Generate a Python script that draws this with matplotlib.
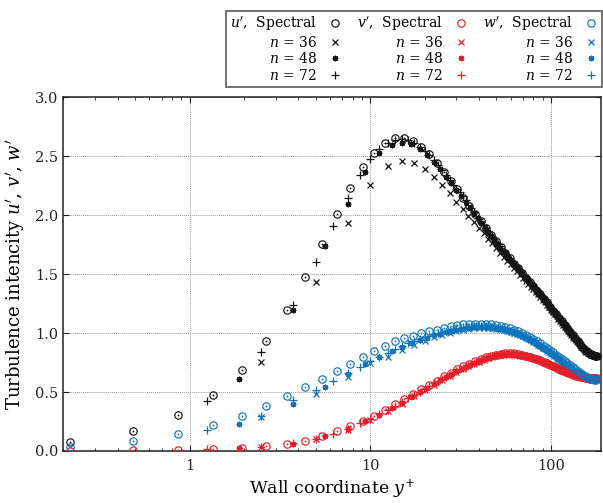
import matplotlib
matplotlib.use("Agg")
import matplotlib.pyplot as plt
from matplotlib.ticker import NullFormatter, LogLocator

plt.rcParams['font.family'] = ['DejaVu Serif']
plt.rcParams['mathtext.fontset'] = 'dejavuserif'

# ---------------- data ----------------
x_spec = [0.217, 0.488, 0.867, 1.354, 1.948, 2.65, 3.459, 4.374, 5.394, 6.52, 7.751, 9.085, 10.52, 12.06,
          13.70, 15.44, 17.28, 19.22, 21.25, 23.38, 25.61, 27.93, 30.34, 32.83, 35.42, 38.10, 40.86, 43.70,
          46.63, 49.64, 52.72, 55.88, 59.12, 62.43, 65.81, 69.26, 72.77, 76.35, 80.00, 83.70, 87.46, 91.28,
          95.15, 99.07, 103.04, 107.06, 111.12, 115.22, 119.36, 123.54, 127.75, 131.99, 136.26, 140.56,
          144.88, 149.23, 153.59, 157.97, 162.36, 166.76, 171.17, 175.58, 180.0]

x_n36 = [2.5, 5, 7.5, 10, 12.5, 15, 17.5, 20, 22.5, 25, 27.5, 30, 32.5, 35, 37.5, 40, 42.5, 45, 47.5, 50,
         52.5, 55, 57.5, 60, 62.5, 65, 67.5, 70, 72.5, 75, 77.5, 80, 82.5, 85, 87.5, 90, 92.5, 95, 97.5, 100,
         102.5, 105, 107.5, 110, 112.5, 115, 117.5, 120, 122.5, 125, 127.5, 130, 132.5, 135, 137.5, 140,
         142.5, 145, 147.5, 150, 152.5, 155, 157.5, 160, 162.5, 165, 167.5, 170, 172.5, 175, 177.5, 180]

x_n48 = [1.875, 3.75, 5.625, 7.5, 9.375, 11.25, 13.125, 15, 16.875, 18.75, 20.625, 22.5, 24.375, 26.25,
         28.125, 30, 31.875, 33.75, 35.625, 37.5, 39.375, 41.25, 43.125, 45, 46.875, 48.75, 50.625, 52.5,
         54.375, 56.25, 58.125, 60, 61.875, 63.75, 65.625, 67.5, 69.375, 71.25, 73.125, 75, 76.875, 78.75,
         80.625, 82.5, 84.375, 86.25, 88.125, 90, 91.875, 93.75, 95.625, 97.5, 99.375, 101.25, 103.125, 105,
         106.875, 108.75, 110.625, 112.5, 114.375, 116.25, 118.125, 120, 121.875, 123.75, 125.625, 127.5,
         129.375, 131.25, 133.125, 135, 136.875, 138.75, 140.625, 142.5, 144.375, 146.25, 148.125, 150,
         151.875, 153.75, 155.625, 157.5, 159.375, 161.25, 163.125, 165, 166.875, 168.75, 170.625, 172.5,
         174.375, 176.25, 178.125, 180]

x_n72 = [1.25, 2.5, 3.75, 5, 6.25, 7.5, 8.75, 10, 11.25, 12.5, 13.75, 15, 16.25, 17.5, 18.75, 20, 21.25,
         22.5, 23.75, 25, 26.25, 27.5, 28.75, 30, 31.25, 32.5, 33.75, 35, 36.25, 37.5, 38.75, 40, 41.25,
         42.5, 43.75, 45, 46.25, 47.5, 48.75, 50, 51.25, 52.5, 53.75, 55, 56.25, 57.5, 58.75, 60, 61.25,
         62.5, 63.75, 65, 66.25, 67.5, 68.75, 70, 71.25, 72.5, 73.75, 75, 76.25, 77.5, 78.75, 80, 81.25,
         82.5, 83.75, 85, 86.25, 87.5, 88.75, 90, 91.25, 92.5, 93.75, 95, 96.25, 97.5, 98.75, 100, 101.25,
         102.5, 103.75, 105, 106.25, 107.5, 108.75, 110, 111.25, 112.5, 113.75, 115, 116.25, 117.5, 118.75,
         120, 121.25, 122.5, 123.75, 125, 126.25, 127.5, 128.75, 130, 131.25, 132.5, 133.75, 135, 136.25,
         137.5, 138.75, 140, 141.25, 142.5, 143.75, 145, 146.25, 147.5, 148.75, 150, 151.25, 152.5, 153.75,
         155, 156.25, 157.5, 158.75, 160, 161.25, 162.5, 163.75, 165, 166.25, 167.5, 168.75, 170, 171.25,
         172.5, 173.75, 175, 176.25, 177.5, 178.75, 180]

# u'
u_spec = [0.074, 0.17, 0.305, 0.478, 0.687, 0.93, 1.196, 1.478, 1.756, 2.01, 2.23, 2.41, 2.53, 2.615, 2.652,
          2.657, 2.63, 2.576, 2.52, 2.445, 2.366, 2.29, 2.22, 2.15, 2.08, 2.01, 1.95, 1.89, 1.835, 1.78, 1.73,
          1.68, 1.635, 1.59, 1.55, 1.51, 1.47, 1.43, 1.40, 1.36, 1.33, 1.29, 1.26, 1.22, 1.19, 1.16, 1.13,
          1.10, 1.07, 1.04, 1.01, 0.98, 0.955, 0.93, 0.905, 0.88, 0.86, 0.845, 0.83, 0.82, 0.812, 0.808, 0.806]

u_n36 = [0.757, 1.43, 1.936, 2.256, 2.417, 2.457, 2.44, 2.39, 2.327, 2.256, 2.186, 2.115, 2.05, 1.99, 1.94,
         1.89, 1.845, 1.80, 1.76, 1.72, 1.683, 1.648, 1.615, 1.583, 1.553, 1.524, 1.496, 1.469, 1.443, 1.418,
         1.394, 1.372, 1.35, 1.328, 1.306, 1.284, 1.262, 1.241, 1.22, 1.199, 1.179, 1.16, 1.141, 1.122,
         1.104, 1.086, 1.069, 1.052, 1.035, 1.018, 1.001, 0.985, 0.969, 0.954, 0.94, 0.926, 0.912, 0.898,
         0.885, 0.872, 0.861, 0.851, 0.842, 0.834, 0.827, 0.821, 0.816, 0.812, 0.809, 0.807, 0.806, 0.805]

u_n48 = [0.61, 1.196, 1.74, 2.095, 2.37, 2.525, 2.595, 2.61, 2.60, 2.56, 2.51, 2.45, 2.39, 2.325, 2.27, 2.21,
         2.16, 2.11, 2.065, 2.02, 1.975, 1.935, 1.895, 1.855, 1.82, 1.787, 1.755, 1.725, 1.696, 1.668, 1.642,
         1.617, 1.593, 1.57, 1.548, 1.527, 1.506, 1.485, 1.465, 1.445, 1.426, 1.408, 1.39, 1.372, 1.355,
         1.338, 1.321, 1.303, 1.285, 1.268, 1.252, 1.236, 1.22, 1.204, 1.19, 1.175, 1.161, 1.147, 1.133,
         1.119, 1.105, 1.091, 1.078, 1.065, 1.052, 1.039, 1.026, 1.013, 1.0, 0.987, 0.975, 0.963, 0.952,
         0.941, 0.93, 0.919, 0.908, 0.897, 0.887, 0.877, 0.868, 0.86, 0.853, 0.847, 0.841, 0.835, 0.83,
         0.825, 0.821, 0.817, 0.814, 0.811, 0.809, 0.808, 0.807, 0.806]

u_n72 = [0.424, 0.842, 1.24, 1.60, 1.91, 2.15, 2.345, 2.475, 2.56, 2.615, 2.64, 2.645, 2.635, 2.612, 2.58,
         2.545, 2.51, 2.47, 2.425, 2.38, 2.34, 2.295, 2.26, 2.225,
         2.195, 2.16, 2.125, 2.09, 2.06, 2.025, 1.995, 1.97, 1.94, 1.915, 1.89, 1.865, 1.84, 1.82, 1.795,
         1.775, 1.755, 1.735, 1.715, 1.695, 1.675, 1.657, 1.64, 1.623, 1.606, 1.59, 1.574, 1.559, 1.545,
         1.53, 1.516, 1.502, 1.488, 1.474, 1.46, 1.446, 1.432, 1.42, 1.41, 1.40, 1.387, 1.374, 1.36, 1.35,
         1.34, 1.33, 1.317, 1.303, 1.29, 1.28, 1.27, 1.26, 1.248, 1.236, 1.224, 1.213, 1.203, 1.194, 1.185,
         1.175, 1.166, 1.157, 1.148, 1.139, 1.13, 1.12, 1.11, 1.10, 1.092, 1.083, 1.075, 1.066, 1.057, 1.048,
         1.039, 1.03, 1.021, 1.012, 1.003, 0.995, 0.986, 0.977, 0.97, 0.962, 0.955, 0.948, 0.941, 0.934,
         0.926, 0.919, 0.912, 0.905, 0.897, 0.89, 0.883, 0.876, 0.87, 0.865, 0.86, 0.855, 0.851, 0.847,
         0.843, 0.838, 0.834, 0.83, 0.827, 0.824, 0.821, 0.819, 0.817, 0.815, 0.813, 0.811, 0.81, 0.809,
         0.808, 0.807, 0.806, 0.806]

# v'
v_spec = [0.002, 0.004, 0.008, 0.016, 0.026, 0.04, 0.06, 0.088, 0.124, 0.165, 0.209, 0.257, 0.30, 0.347,
          0.394, 0.437, 0.481, 0.524, 0.562, 0.597, 0.633, 0.665, 0.694, 0.718, 0.741, 0.761, 0.779, 0.795,
          0.808, 0.818, 0.825, 0.829, 0.83, 0.828, 0.824, 0.818, 0.809, 0.801, 0.79, 0.78, 0.769, 0.757,
          0.745, 0.733, 0.721, 0.71, 0.699, 0.688, 0.677, 0.667, 0.658, 0.65, 0.643, 0.637, 0.632, 0.628,
          0.624, 0.621, 0.619, 0.617, 0.616, 0.615, 0.615]

v_n36 = [0.033, 0.098, 0.18, 0.26, 0.335, 0.40, 0.463, 0.515, 0.561, 0.602, 0.638, 0.67, 0.697, 0.72, 0.74,
         0.758, 0.775, 0.789, 0.8, 0.809, 0.815, 0.819, 0.821, 0.821, 0.82, 0.817, 0.813, 0.809, 0.804,
         0.799, 0.793, 0.786, 0.779, 0.771, 0.764, 0.756, 0.748, 0.741, 0.733, 0.725, 0.718, 0.71, 0.703,
         0.696, 0.689, 0.682, 0.676, 0.67, 0.664, 0.658, 0.654, 0.649, 0.645, 0.641, 0.637, 0.634, 0.631,
         0.628, 0.626, 0.624, 0.622, 0.62, 0.619, 0.618, 0.617, 0.616, 0.616, 0.615, 0.615, 0.615, 0.614,
         0.614]

v_n48 = [0.022, 0.063, 0.125, 0.188, 0.25, 0.308, 0.362, 0.41, 0.455, 0.498, 0.535, 0.569, 0.6, 0.628, 0.653,
         0.675, 0.695, 0.713, 0.729, 0.744, 0.757, 0.769, 0.779, 0.789, 0.797, 0.804, 0.81, 0.815, 0.818,
         0.82, 0.821, 0.821, 0.82, 0.818, 0.816, 0.813, 0.81, 0.806, 0.802, 0.798, 0.793, 0.788, 0.783,
         0.778, 0.772, 0.767, 0.761, 0.755, 0.749, 0.744, 0.738, 0.732, 0.726, 0.72, 0.714, 0.709, 0.703,
         0.698, 0.693, 0.688, 0.683, 0.678, 0.674, 0.669, 0.665, 0.661, 0.657, 0.653, 0.65, 0.647, 0.644,
         0.641, 0.638, 0.636, 0.633, 0.631, 0.629, 0.627, 0.625, 0.624, 0.622, 0.621, 0.62, 0.619, 0.618,
         0.617, 0.617, 0.616, 0.616, 0.615, 0.615, 0.615, 0.614, 0.614, 0.614, 0.614]

v_n72 = [0.013, 0.035, 0.064, 0.104, 0.147, 0.19, 0.233, 0.273, 0.312, 0.348, 0.382, 0.413, 0.445, 0.477,
         0.503, 0.528, 0.551, 0.573, 0.593, 0.613, 0.631, 0.648, 0.664, 0.679, 0.692, 0.705, 0.716, 0.727,
         0.737, 0.747, 0.756, 0.765, 0.773, 0.781, 0.789, 0.795, 0.800, 0.805, 0.810, 0.814, 0.817, 0.82,
         0.822, 0.823, 0.824, 0.825, 0.825, 0.824, 0.823, 0.822, 0.82, 0.818, 0.816, 0.814, 0.812, 0.81,
         0.808, 0.805, 0.802, 0.8, 0.797, 0.794, 0.79, 0.787, 0.783, 0.78, 0.776, 0.772, 0.769, 0.765,
         0.761, 0.757, 0.753, 0.749, 0.746, 0.742, 0.738, 0.734, 0.73, 0.726, 0.722, 0.719, 0.715, 0.711,
         0.708, 0.704, 0.701, 0.697, 0.694, 0.69, 0.687, 0.683, 0.68, 0.677, 0.674, 0.671, 0.668, 0.665,
         0.662, 0.659, 0.657, 0.655, 0.652, 0.65, 0.648, 0.646, 0.644, 0.642, 0.64, 0.638, 0.636, 0.635,
         0.633, 0.632, 0.63, 0.629, 0.628, 0.627, 0.626, 0.625, 0.624, 0.623, 0.622, 0.621, 0.62, 0.62,
         0.619, 0.619, 0.618, 0.618, 0.617, 0.617, 0.617, 0.616, 0.616, 0.616, 0.616, 0.615, 0.615, 0.615,
         0.615, 0.615, 0.615, 0.615]

# w'
w_spec = [0.037, 0.085, 0.147, 0.22, 0.30, 0.384, 0.464, 0.54, 0.61, 0.68, 0.738, 0.80, 0.848, 0.89, 0.93,
          0.955, 0.978, 0.998, 1.015, 1.03, 1.045, 1.057, 1.066, 1.073, 1.078, 1.08, 1.08, 1.077, 1.073,
          1.067, 1.06, 1.051, 1.04, 1.028, 1.015, 1.0, 0.985, 0.968, 0.95, 0.931, 0.912, 0.893, 0.874,
          0.855, 0.836, 0.817, 0.798, 0.779, 0.761, 0.743, 0.726, 0.709, 0.693, 0.678, 0.664, 0.651, 0.64,
          0.63, 0.622, 0.616, 0.611, 0.608, 0.607]

w_n36 = [0.29, 0.483, 0.625, 0.745, 0.80, 0.855, 0.9, 0.935, 0.963, 0.985, 1.002, 1.016, 1.027, 1.035, 1.04,
         1.043, 1.044, 1.043, 1.04, 1.036, 1.031, 1.025, 1.018, 1.01, 1.001, 0.992, 0.982, 0.971, 0.96,
         0.949, 0.937, 0.925, 0.913, 0.9, 0.887, 0.875, 0.862, 0.85, 0.838, 0.826, 0.814, 0.802, 0.791,
         0.78, 0.769, 0.758, 0.748, 0.737, 0.727, 0.717, 0.708, 0.698, 0.689, 0.68, 0.672, 0.664, 0.656,
         0.649, 0.642, 0.636, 0.63, 0.625, 0.62, 0.616, 0.612, 0.609, 0.606, 0.604, 0.603, 0.602, 0.601,
         0.601]

w_n48 = [0.226, 0.40, 0.54, 0.655, 0.74, 0.80, 0.848, 0.885, 0.915, 0.94, 0.962, 0.98, 0.995, 1.008, 1.019,
         1.028, 1.035, 1.041, 1.046, 1.049, 1.051, 1.052, 1.052, 1.051, 1.049, 1.046, 1.042, 1.037, 1.032,
         1.026, 1.02, 1.013, 1.006, 0.998, 0.99, 0.982, 0.974, 0.965, 0.956, 0.947, 0.938, 0.929, 0.92,
         0.911, 0.902, 0.893, 0.883, 0.874, 0.865, 0.856, 0.847, 0.838, 0.829, 0.82, 0.811, 0.802, 0.794,
         0.786, 0.777, 0.769, 0.761, 0.753, 0.745, 0.737, 0.73, 0.722, 0.715, 0.708, 0.701, 0.694, 0.687,
         0.681, 0.675, 0.669, 0.663, 0.657, 0.652, 0.647, 0.642, 0.637, 0.633, 0.629, 0.625, 0.622, 0.619,
         0.616, 0.614, 0.612, 0.61, 0.608, 0.607, 0.606, 0.605, 0.604, 0.604, 0.604]

w_n72 = [0.178, 0.297, 0.433, 0.517, 0.596, 0.66, 0.715, 0.76, 0.80, 0.835, 0.865, 0.89, 0.912, 0.932, 0.95,
         0.965, 0.979, 0.991, 1.002, 1.012, 1.02, 1.028, 1.035, 1.04, 1.045, 1.049, 1.052, 1.055, 1.057,
         1.058, 1.059,
         1.06, 1.06, 1.059, 1.058, 1.056, 1.054, 1.051, 1.048, 1.046, 1.043, 1.039, 1.036, 1.032, 1.028,
         1.024, 1.02, 1.016, 1.011, 1.007, 1.002, 0.997, 0.992, 0.987, 0.982, 0.976, 0.971, 0.965, 0.959,
         0.953, 0.947, 0.941, 0.935, 0.929, 0.923, 0.917, 0.911, 0.905, 0.898, 0.892, 0.885, 0.879, 0.873,
         0.867, 0.861, 0.855, 0.849, 0.843, 0.837, 0.831, 0.825, 0.819, 0.813, 0.808, 0.802, 0.796, 0.791,
         0.785, 0.78, 0.774, 0.769, 0.763, 0.758, 0.753, 0.747, 0.742, 0.737, 0.732, 0.727, 0.722, 0.717,
         0.712, 0.707, 0.702, 0.697, 0.693, 0.688, 0.684, 0.68, 0.675, 0.671, 0.667, 0.663, 0.659, 0.655,
         0.652, 0.648, 0.645, 0.641, 0.638, 0.635, 0.632, 0.629, 0.627, 0.624, 0.622, 0.62, 0.618, 0.616,
         0.614, 0.613, 0.611, 0.61, 0.609, 0.608, 0.607, 0.606, 0.605, 0.605, 0.604, 0.604, 0.604, 0.603,
         0.603]

_checks = {
    'u_spec': (u_spec, x_spec), 'v_spec': (v_spec, x_spec), 'w_spec': (w_spec, x_spec),
    'u_n36': (u_n36, x_n36), 'v_n36': (v_n36, x_n36), 'w_n36': (w_n36, x_n36),
    'u_n48': (u_n48, x_n48), 'v_n48': (v_n48, x_n48), 'w_n48': (w_n48, x_n48),
    'u_n72': (u_n72, x_n72), 'v_n72': (v_n72, x_n72), 'w_n72': (w_n72, x_n72),
}
for k, (yy, xx) in _checks.items():
    if len(yy) != len(xx):
        raise SystemExit(f"{k}: {len(yy)} vs {len(xx)}")

# ---------------- plot ----------------
BLACK = '#151515'
RED = '#e3202a'
BLUE = '#0f74bb'

fig = plt.figure(figsize=(6.03, 5.03), dpi=100)
ax = fig.add_axes([0.105, 0.1035, 0.892, 0.703])

comps = [("u", BLACK, u_spec, u_n36, u_n48, u_n72),
         ("v", RED, v_spec, v_n36, v_n48, v_n72),
         ("w", BLUE, w_spec, w_n36, w_n48, w_n72)]

handles = []
labels = []
for name, c, ys, y36, y48, y72 in comps:
    h72, = ax.plot(x_n72, y72, ls='none', marker='+', ms=6.0, mew=0.9, color=c, zorder=3)
    h48, = ax.plot(x_n48, y48, ls='none', marker=(8, 2, 0), ms=4.0, mew=0.9, color=c, zorder=3)
    h36, = ax.plot(x_n36, y36, ls='none', marker='x', ms=4.3, mew=0.9, color=c, zorder=3)
    hs, = ax.plot(x_spec, ys, ls='none', marker='o', ms=5.3, mew=0.85, mfc='none', mec=c, zorder=4)
    ax.plot(x_spec, ys, ls='none', marker='o', ms=1.3, mew=0, color=c, zorder=4)
    handles += [hs, h36, h48, h72]
    labels += [rf"${name}'$,  Spectral", r"$n$ = 36", r"$n$ = 48", r"$n$ = 72"]

ax.set_xscale('log')
ax.set_xlim(0.2, 190)
ax.set_ylim(0.0, 3.0)
ax.set_xticks([1, 10, 100])
ax.set_xticklabels(['1', '10', '100'])
ax.xaxis.set_minor_locator(LogLocator(base=10, subs=range(2, 10)))
ax.xaxis.set_minor_formatter(NullFormatter())
ax.set_yticks([0.0, 0.5, 1.0, 1.5, 2.0, 2.5, 3.0])
ax.set_yticklabels(['0.0', '0.5', '1.0', '1.5', '2.0', '2.5', '3.0'])

ax.tick_params(which='both', direction='in', top=True, right=True, labelsize=10.5, colors='#222222')
ax.tick_params(which='major', length=4, width=0.8)
ax.tick_params(which='minor', length=2.5, width=0.6)
ax.tick_params(axis='x', pad=6)
ax.grid(True, which='major', ls=(0, (1, 1)), lw=0.7, color='#9a9a9a')
for s in ax.spines.values():
    s.set_linewidth(1.1)
    s.set_color('#222222')

ax.set_xlabel(r"Wall coordinate $y^{+}$", fontsize=12.5, labelpad=3)
ax.set_ylabel(r"Turbulence intencity $u'$, $v'$, $w'$", fontsize=13, labelpad=6)

leg = fig.legend(handles, labels, ncol=3, loc='upper right', bbox_to_anchor=(0.998, 0.979),
                 borderaxespad=0.0,
                 markerfirst=False, fontsize=10, frameon=True, fancybox=False,
                 handlelength=1.0, handletextpad=0.8, columnspacing=1.1, labelspacing=0.12,
                 borderpad=0.3, edgecolor='#333333', alignment='right')
leg.get_frame().set_linewidth(1.2)

fig.savefig('out.png', dpi=100)
